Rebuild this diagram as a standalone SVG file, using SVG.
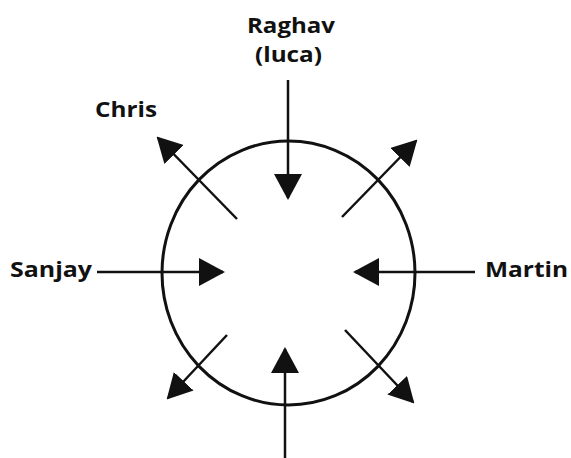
<svg xmlns="http://www.w3.org/2000/svg" width="571" height="458" viewBox="0 0 571 458">
<style>
.lbl{font-family:"Open Sans","Noto Sans","Liberation Sans",sans-serif;font-weight:bold;font-size:22px;fill:#111}
.conn{stroke:#111;stroke-width:2.5;fill:none}
</style>
<defs>
<marker id="ah" viewBox="0 0 26 28" refX="24" refY="14" markerWidth="26" markerHeight="28" markerUnits="userSpaceOnUse" orient="auto">
<path d="M0,0 L26,14 L0,28 Z" fill="#111"/>
</marker>
<marker id="ahs" viewBox="0 0 25 27" refX="23" refY="13.5" markerWidth="25" markerHeight="27" markerUnits="userSpaceOnUse" orient="auto">
<path d="M0,0 L25,13.5 L0,27 Z" fill="#111"/>
</marker>
</defs>
<g id="circle">
<ellipse cx="288.5" cy="273" rx="126.5" ry="132" fill="none" stroke="#111" stroke-width="3"/>
</g>
<g id="raghav"><text class="lbl" x="291" y="33" text-anchor="middle" textLength="88" lengthAdjust="spacingAndGlyphs">Raghav</text>
<text class="lbl" x="288.5" y="62" text-anchor="middle" textLength="67" lengthAdjust="spacingAndGlyphs">(luca)</text></g>
<g id="chris"><text class="lbl" x="95" y="117" textLength="62" lengthAdjust="spacingAndGlyphs">Chris</text></g>
<g id="sanjay"><text class="lbl" x="10" y="277" textLength="82" lengthAdjust="spacingAndGlyphs">Sanjay</text></g>
<g id="martin"><text class="lbl" x="485" y="277" textLength="83" lengthAdjust="spacingAndGlyphs">Martin</text></g>
<g id="connectors">
<line class="conn" x1="288" y1="80" x2="288" y2="198" marker-end="url(#ah)"/>
<line class="conn" x1="285" y1="458" x2="285" y2="349" marker-end="url(#ah)"/>
<line class="conn" x1="97" y1="272" x2="223" y2="272" marker-end="url(#ah)"/>
<line class="conn" x1="475" y1="272" x2="355" y2="272" marker-end="url(#ah)"/>
<line class="conn" x1="237" y1="219" x2="158" y2="138" marker-end="url(#ahs)"/>
<line class="conn" x1="342" y1="217" x2="416" y2="141" marker-end="url(#ahs)"/>
<line class="conn" x1="227" y1="335" x2="168" y2="398" marker-end="url(#ahs)"/>
<line class="conn" x1="345" y1="330" x2="413" y2="402" marker-end="url(#ahs)"/>
</g>
</svg>
